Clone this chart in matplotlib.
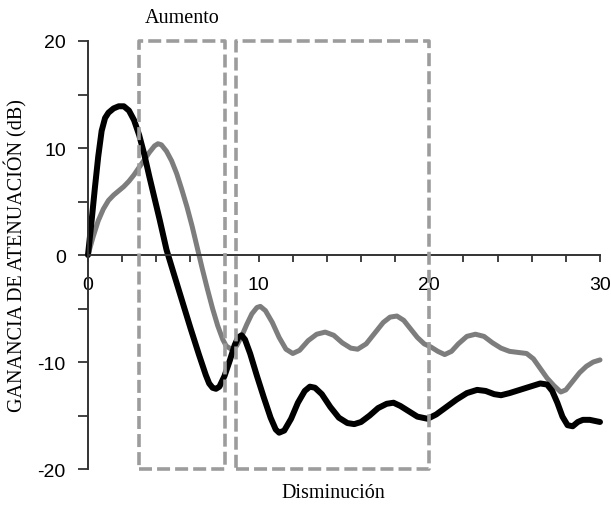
import matplotlib
matplotlib.use('Agg')
import matplotlib.pyplot as plt
from matplotlib.patches import Rectangle

# curva negra
x_negra = [0, 0.2, 0.4, 0.6, 0.8, 1.0, 1.2, 1.5, 1.8, 2.1, 2.4, 2.7, 3.0, 3.3, 3.6, 3.9, 4.2, 4.6,
           5.0, 5.5, 6.0, 6.5, 6.9, 7.1, 7.3, 7.5, 7.7, 8.0, 8.3, 8.6, 8.8, 9.0, 9.2, 9.5, 9.9, 10.3,
           10.7, 11.0, 11.2, 11.5, 11.9, 12.3, 12.7, 13.0, 13.3, 13.7, 14.2, 14.7, 15.2, 15.6, 16.0,
           16.5, 17.0, 17.5, 17.9, 18.3, 18.8, 19.3, 19.9, 20.4, 21.0, 21.6, 22.2, 22.8, 23.3, 23.8,
           24.2, 24.7, 25.3, 25.9, 26.5, 26.9, 27.2, 27.5, 27.8, 28.1, 28.4, 28.7, 29.0, 29.4, 29.7, 30.0]
y_negra = [0, 3.0, 6.2, 9.2, 11.6, 12.8, 13.3, 13.7, 13.9, 13.9, 13.5, 12.6, 11.2, 9.4, 7.3, 5.3, 3.3,
           0.5, -1.6, -4.2, -6.8, -9.3, -11.2, -12.0, -12.4, -12.5, -12.3, -11.3, -9.9, -8.4, -7.7,
           -7.5, -7.9, -9.2, -11.3, -13.3, -15.2, -16.3, -16.6, -16.4, -15.3, -13.8, -12.7, -12.3,
           -12.4, -13.0, -14.2, -15.2, -15.7, -15.8, -15.6, -15.0, -14.3, -13.9, -13.8, -14.1, -14.6,
           -15.1, -15.3, -14.9, -14.2, -13.5, -12.9, -12.6, -12.7, -13.0, -13.1, -12.9, -12.6, -12.3,
           -12.0, -12.1, -12.7, -13.8, -15.1, -15.9, -16.0, -15.6, -15.4, -15.4, -15.5, -15.6]

# curva gris
x_gris = [0, 0.3, 0.6, 0.9, 1.2, 1.5, 1.8, 2.1, 2.4, 2.7, 3.0, 3.3, 3.6, 3.9, 4.1, 4.3, 4.6, 4.9,
          5.2, 5.5, 5.8, 6.1, 6.4, 6.7, 7.0, 7.3, 7.6, 7.9, 8.1, 8.4, 8.7, 9.0, 9.3, 9.6, 9.9, 10.1,
          10.4, 10.8, 11.2, 11.6, 12.0, 12.4, 12.9, 13.4, 13.9, 14.4, 14.9, 15.4, 15.8, 16.3, 16.8,
          17.3, 17.7, 18.1, 18.5, 18.9, 19.3, 19.7, 20.1, 20.5, 20.9, 21.3, 21.7, 22.2, 22.7, 23.2,
          23.7, 24.2, 24.7, 25.2, 25.7, 26.1, 26.5, 26.9, 27.3, 27.7, 28.0, 28.4, 28.8, 29.2, 29.6, 30.0]
y_gris = [0, 1.7, 3.2, 4.3, 5.1, 5.6, 6.0, 6.4, 6.9, 7.5, 8.2, 8.9, 9.6, 10.2, 10.4, 10.3, 9.7, 8.8,
          7.6, 6.1, 4.5, 2.7, 0.7, -1.3, -3.2, -5.0, -6.6, -7.9, -8.5, -8.8, -8.5, -7.6, -6.5, -5.5,
          -4.9, -4.8, -5.2, -6.3, -7.7, -8.8, -9.2, -8.9, -8.0, -7.4, -7.2, -7.5, -8.2, -8.7, -8.8,
          -8.3, -7.3, -6.3, -5.8, -5.7, -6.1, -6.9, -7.7, -8.3, -8.6, -9.0, -9.3, -9.0, -8.3, -7.6,
          -7.4, -7.6, -8.2, -8.7, -9.0, -9.1, -9.2, -9.7, -10.6, -11.5, -12.2, -12.8, -12.6, -11.8,
          -11.0, -10.4, -10.0, -9.8]

# zonas marcadas (rango en x)
aumento = (3.0, 8.0)
disminucion = (8.7, 20.0)

plt.rcParams['font.family'] = ['Liberation Sans', 'DejaVu Sans']
fig = plt.figure(figsize=(6.11, 5.06), dpi=100)
ax = fig.add_axes([0.144, 0.071, 0.838, 0.846])

ax.plot(x_gris, y_gris, color='#7d7d7d', lw=3.6, solid_joinstyle='round', solid_capstyle='round', clip_on=False)
ax.plot(x_negra, y_negra, color='black', lw=4.3, solid_joinstyle='round', solid_capstyle='round', clip_on=False)

for (a, b) in [aumento, disminucion]:
    r = Rectangle((a, -20), b - a, 40, fill=False, edgecolor='#9c9c9c', lw=2.6,
                  linestyle=(0, (3.6, 1.4)), joinstyle='round', clip_on=False, zorder=5)
    ax.add_patch(r)

ax.text(sum(aumento) / 2, 22.2, 'Aumento', family='Liberation Serif', fontsize=14.5,
        ha='center', va='center')
ax.text(sum(disminucion) / 2, -22.2, 'Disminución', family='Liberation Serif', fontsize=14.5,
        ha='center', va='center')

ax.set_xlim(0, 30)
ax.set_ylim(-20, 20)
ax.spines['top'].set_visible(False)
ax.spines['right'].set_visible(False)
ax.spines['bottom'].set_position('zero')
ax.spines['left'].set_position(('data', 0))
for s in ['bottom', 'left']:
    ax.spines[s].set_color('#333333')
    ax.spines[s].set_linewidth(1.4)

ax.set_xticks(range(0, 31, 2))
ax.set_xticklabels([str(v) if v % 10 == 0 else '' for v in range(0, 31, 2)])
ax.set_yticks(range(-20, 21, 5))
ax.set_yticklabels([str(v) if v % 10 == 0 else '' for v in range(-20, 21, 5)])
ax.tick_params(axis='x', direction='out', length=5, width=1.3, color='#333333', labelsize=14, pad=10)
ax.tick_params(axis='y', direction='out', length=7, width=1.3, color='#333333', labelsize=14, pad=9)

ax.set_ylabel('GANANCIA DE ATENUACIÓN (dB)', family='Liberation Serif', fontsize=14.5)
ax.yaxis.set_label_coords(-0.118, 0.5)

fig.savefig('out.png', dpi=100)
